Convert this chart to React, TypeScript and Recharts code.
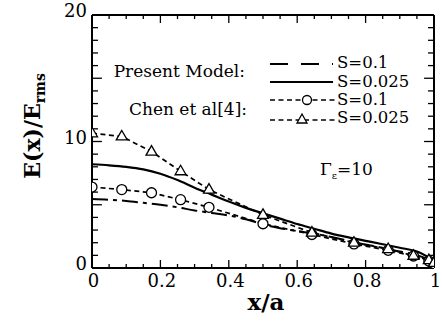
import { LineChart, Line, XAxis, YAxis, ReferenceLine } from 'recharts'

// Chen et al[4] sample positions and values
const xChen = [0, 0.087, 0.174, 0.259, 0.342, 0.5, 0.643, 0.766, 0.866, 0.94, 0.985, 1]
const chenS01 = [6.4, 6.2, 5.95, 5.4, 4.8, 3.5, 2.65, 1.9, 1.4, 0.95, 0.55, 0.35]
const chenS0025 = [10.65, 10.4, 9.2, 7.65, 6.2, 4.2, 2.8, 2.0, 1.5, 0.97, 0.62, 0.4]

// present model curves
const xModel = [0, 0.05, 0.1, 0.15, 0.2, 0.25, 0.3, 0.35, 0.4, 0.45, 0.5, 0.55, 0.6, 0.65, 0.7, 0.75, 0.8, 0.85, 0.9, 0.95, 1]
const modelS01 = [5.45, 5.4, 5.3, 5.15, 5.0, 4.8, 4.55, 4.35, 4.15, 3.85, 3.45, 3.15, 2.92, 2.72, 2.45, 2.15, 1.85, 1.6, 1.3, 1.02, 0.5]
const modelS0025 = [8.2, 8.12, 8.0, 7.8, 7.45, 6.95, 6.35, 5.8, 5.25, 4.75, 4.32, 3.9, 3.48, 3.1, 2.72, 2.42, 2.15, 1.88, 1.6, 1.3, 0.6]

const xTicks = [0, 0.2, 0.4, 0.6, 0.8, 1]
const yTicks = [0, 10, 20]
const xMinor = [0, 0.05, 0.1, 0.15, 0.2, 0.25, 0.3, 0.35, 0.4, 0.45, 0.5, 0.55, 0.6, 0.65, 0.7, 0.75, 0.8, 0.85, 0.9, 0.95, 1]
const yMinor = [0, 1, 2, 3, 4, 5, 6, 7, 8, 9, 10, 11, 12, 13, 14, 15, 16, 17, 18, 19, 20]

const zip = (xs: number[], ys: number[]) => xs.map((x, i) => ({ x, y: ys[i] }))

const serif = "'DejaVu Serif', serif"
const txt = { fontFamily: serif }

const Circle = (p: any) => (
  <circle key={`c${p.index}`} cx={p.cx} cy={p.cy} r={5} fill="#fff" stroke="#000" strokeWidth={1.3} />
)

const Triangle = (p: any) => (
  <polygon
    key={`t${p.index}`}
    points={`${p.cx},${p.cy - 6} ${p.cx - 5.5},${p.cy + 3.5} ${p.cx + 5.5},${p.cy + 3.5}`}
    fill="#fff"
    stroke="#000"
    strokeWidth={1.3}
  />
)

const XTick = (p: any) => (
  <text x={p.x + 1.5} y={p.y + 19} textAnchor="middle" style={txt} fontSize={18} fill="#000">
    {p.payload.value}
  </text>
)

const YTick = (p: any) => (
  <text x={p.x} y={p.y + 2} textAnchor="end" style={txt} fontSize={18} fill="#000">
    {p.payload.value}
  </text>
)

// tick lengths in data units (x: 342px per unit, y: 12.65px per unit)
const xTickLen = (v: number) => (Math.abs(v * 5 - Math.round(v * 5)) < 1e-6 ? 0.63 : 0.32)
const yTickLen = (v: number) => (v % 5 === 0 ? 0.029 : 0.0175)

export default function App() {
  return (
    <div style={{ position: 'absolute', left: 0, top: 0, width: 442, height: 333, background: '#fff', fontFamily: serif }}>
      <LineChart width={442} height={333} margin={{ top: 15, right: 8, bottom: 0, left: 0 }} style={txt}>
        <XAxis
          type="number"
          dataKey="x"
          domain={[0, 1]}
          ticks={xTicks}
          tick={<XTick />}
          tickSize={0}
          tickMargin={0}
          tickLine={false}
          axisLine={{ stroke: '#000', strokeWidth: 2 }}
          height={65}
          allowDataOverflow
        />
        <YAxis
          type="number"
          domain={[0, 20]}
          ticks={yTicks}
          tick={<YTick />}
          tickSize={0}
          tickMargin={5}
          tickLine={false}
          axisLine={{ stroke: '#000', strokeWidth: 2 }}
          width={92}
          allowDataOverflow
        />
        <ReferenceLine y={20} stroke="#000" strokeWidth={2} />
        <ReferenceLine x={1} stroke="#000" strokeWidth={2} />
        {xMinor.map((v) => (
          <ReferenceLine key={`xb${v}`} segment={[{ x: v, y: 0 }, { x: v, y: xTickLen(v) }]} stroke="#000" strokeWidth={1.3} />
        ))}
        {xMinor.map((v) => (
          <ReferenceLine key={`xt${v}`} segment={[{ x: v, y: 20 }, { x: v, y: 20 - xTickLen(v) }]} stroke="#000" strokeWidth={1.3} />
        ))}
        {yMinor.map((v) => (
          <ReferenceLine key={`yl${v}`} segment={[{ x: 0, y: v }, { x: yTickLen(v), y: v }]} stroke="#000" strokeWidth={1.3} />
        ))}
        {yMinor.map((v) => (
          <ReferenceLine key={`yr${v}`} segment={[{ x: 1, y: v }, { x: 1 - yTickLen(v), y: v }]} stroke="#000" strokeWidth={1.3} />
        ))}
        <Line
          data={zip(xModel, modelS01)}
          dataKey="y"
          type="monotone"
          stroke="#000"
          strokeWidth={2}
          strokeDasharray="16 5 4 5"
          dot={false}
          isAnimationActive={false}
        />
        <Line
          data={zip(xModel, modelS0025)}
          dataKey="y"
          type="monotone"
          stroke="#000"
          strokeWidth={2.2}
          dot={false}
          isAnimationActive={false}
        />
        <Line
          data={zip(xChen, chenS01)}
          dataKey="y"
          type="linear"
          stroke="#000"
          strokeWidth={1.7}
          strokeDasharray="5 3.5"
          dot={Circle}
          isAnimationActive={false}
        />
        <Line
          data={zip(xChen, chenS0025)}
          dataKey="y"
          type="linear"
          stroke="#000"
          strokeWidth={1.7}
          strokeDasharray="5 3.5"
          dot={Triangle}
          isAnimationActive={false}
        />
      </LineChart>
      <svg
        width={442}
        height={333}
        style={{ position: 'absolute', left: 0, top: 0, pointerEvents: 'none', fontFamily: serif }}
        fill="#000"
      >
        {/* axis titles */}
        <text x={266} y={310} textAnchor="middle" fontWeight="bold" fontSize={23}>
          x/a
        </text>
        <text transform="translate(40,126) rotate(-90)" textAnchor="middle" fontWeight="bold" fontSize={22}>
          E(x)/E
          <tspan fontSize={14} dy={5}>
            rms
          </tspan>
        </text>
        {/* parameter note */}
        <text x={320} y={175} fontSize={17}>
          Γ
          <tspan fontSize={10} dy={4}>
            ε
          </tspan>
          <tspan dy={-4}>=10</tspan>
        </text>
        {/* legend */}
        <text x={245} y={77} textAnchor="end" fontSize={17}>
          Present Model:
        </text>
        <text x={247} y={115} textAnchor="end" fontSize={17}>
          Chen et al[4]:
        </text>
        <line x1={270} y1={64} x2={333} y2={64} stroke="#000" strokeWidth={2} strokeDasharray="18 13" />
        <line x1={270} y1={82} x2={333} y2={82} stroke="#000" strokeWidth={2.2} />
        <line x1={270} y1={100} x2={335} y2={100} stroke="#000" strokeWidth={1.7} strokeDasharray="5 3.5" />
        <circle cx={307} cy={100} r={4.5} fill="#fff" stroke="#000" strokeWidth={1.3} />
        <line x1={270} y1={120} x2={335} y2={120} stroke="#000" strokeWidth={1.7} strokeDasharray="5 3.5" />
        <polygon points="302,114 297,123 307,123" fill="#fff" stroke="#000" strokeWidth={1.3} />
        <text x={337} y={68} fontSize={16.5}>S=0.1</text>
        <text x={337} y={87} fontSize={16.5}>S=0.025</text>
        <text x={337} y={105} fontSize={16.5}>S=0.1</text>
        <text x={337} y={123} fontSize={16.5}>S=0.025</text>
      </svg>
    </div>
  )
}
